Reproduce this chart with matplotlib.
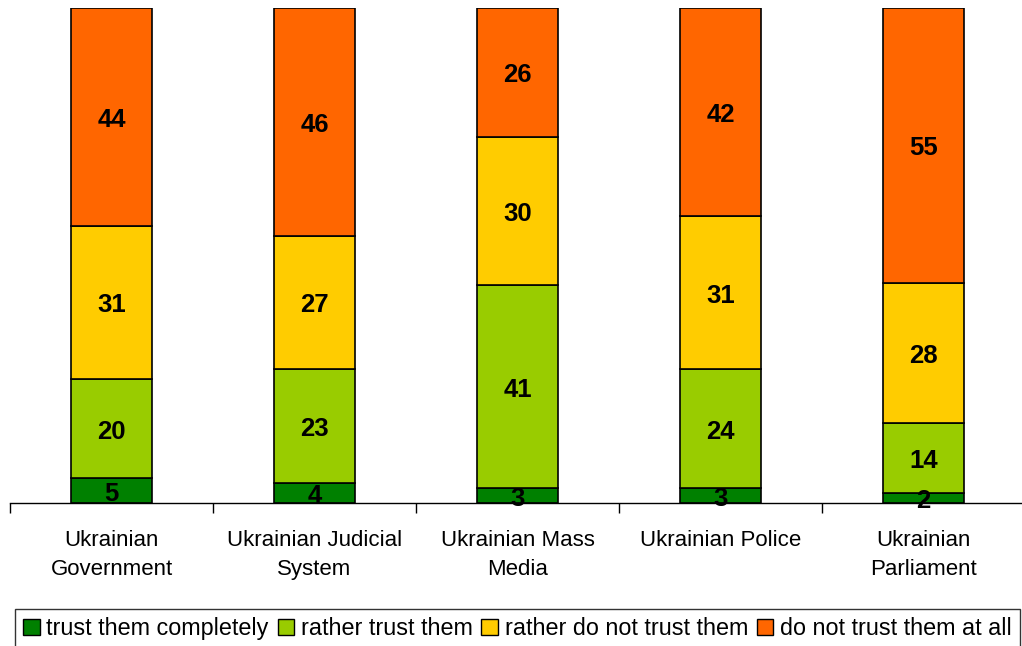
import numpy as np
import matplotlib.pyplot as plt

plt.rcParams['font.family'] = ['Liberation Sans', 'DejaVu Sans']

# --- datos ---
categories = ["Ukrainian\nGovernment", "Ukrainian Judicial\nSystem", "Ukrainian Mass\nMedia",
              "Ukrainian Police", "Ukrainian\nParliament"]
series_names = ["trust them completely", "rather trust them",
                "rather do not trust them", "do not trust them at all"]
trust_completely = [5, 4, 3, 3, 2]
rather_trust = [20, 23, 41, 24, 14]
rather_not_trust = [31, 27, 30, 31, 28]
not_trust_at_all = [44, 46, 26, 42, 55]
colors = ["#008000", "#99CC00", "#FFCC00", "#FF6600"]

values = np.array([trust_completely, rather_trust, rather_not_trust, not_trust_at_all], dtype=float)
totals = values.sum(axis=0)
shares = values / totals * 100  # barras al 100%

fig = plt.figure(figsize=(10.22, 6.46), dpi=100)
ax = fig.add_axes([10 / 1022, 143 / 646, 1015 / 1022, 495 / 646])

x = np.arange(len(categories))
bottom = np.zeros(len(categories))
handles = []
for i in range(len(series_names)):
    b = ax.bar(x, shares[i], width=0.395, bottom=bottom, color=colors[i],
               edgecolor='black', linewidth=1.2, label=series_names[i])
    handles.append(b)
    for j in range(len(categories)):
        ax.text(x[j], bottom[j] + shares[i][j] / 2 - 0.6, f"{int(values[i][j])}",
                ha='center', va='center', fontsize=18.5, fontweight='bold')
    bottom += shares[i]

ax.set_xlim(-0.5, len(categories) - 0.5)
ax.set_ylim(0, 100)
ax.set_yticks([])
for s in ['top', 'right', 'left']:
    ax.spines[s].set_visible(False)
ax.spines['bottom'].set_linewidth(1.0)

# ticks entre categorias
ax.set_xticks(np.arange(len(categories)) - 0.5, minor=False)
ax.set_xticklabels([])
ax.tick_params(axis='x', length=7, width=1.0, direction='out')
for j, lab in enumerate(categories):
    ax.text(x[j], -5.5, lab, ha='center', va='top', fontsize=16, linespacing=1.5)

leg = fig.legend(handles=handles, labels=series_names, loc='lower left',
                 bbox_to_anchor=(15 / 1022, -2 / 646, 1005 / 1022, 40 / 646),
                 mode='expand', ncol=4, fontsize=16.8, frameon=True, fancybox=False,
                 handlelength=0.7, handleheight=0.7, handletextpad=0.3,
                 columnspacing=0.6, borderpad=0.35, borderaxespad=0)
leg.get_frame().set_edgecolor('black')
leg.get_frame().set_linewidth(1.0)
for h in leg.legend_handles:
    h.set_edgecolor('black')
    h.set_linewidth(1.0)

plt.savefig("out.png", dpi=100)
